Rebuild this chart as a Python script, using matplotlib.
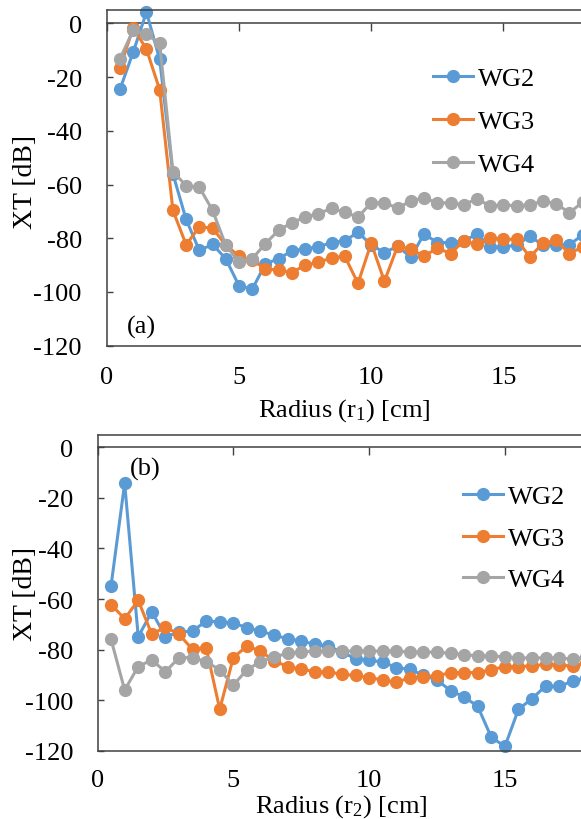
import matplotlib
matplotlib.use("Agg")
import matplotlib.pyplot as plt

plt.rcParams['font.family'] = ['Liberation Serif', 'DejaVu Serif']
plt.rcParams['mathtext.fontset'] = 'custom'
plt.rcParams['mathtext.rm'] = 'Liberation Serif'
plt.rcParams['axes.unicode_minus'] = False

radius = [0.5, 1, 1.5, 2, 2.5, 3, 3.5, 4, 4.5, 5, 5.5, 6, 6.5, 7, 7.5, 8, 8.5, 9,
          9.5, 10, 10.5, 11, 11.5, 12, 12.5, 13, 13.5, 14, 14.5, 15, 15.5, 16, 16.5,
          17, 17.5, 18]

# panel (a): radius r1
wg2_a = [-24.5, -10.6, 4.2, -13.4, -56, -73, -84.5, -82.3, -87.6, -97.7, -99, -89.5,
         -87.6, -84.7, -83.9, -83.2, -81.6, -81, -77.7, -82.5, -85.3, -83, -87, -78.4,
         -81.6, -81.6, -81, -78.4, -83.2, -83.2, -82.6, -79.2, -82.6, -82.6, -82.4, -78.7]
wg3_a = [-16.5, -1.6, -9.6, -24.7, -69.6, -82.4, -75.8, -76.2, -82.6, -86.6, -88.2, -91.3,
         -91.9, -92.8, -90, -89, -87.3, -86.7, -96.8, -81.8, -96, -82.9, -84, -86.7,
         -83.6, -85.7, -81, -82.3, -79.9, -80.4, -80.4, -87, -81.8, -80.8, -85.7, -83.2]
wg4_a = [-13.1, -2.5, -4.1, -7.4, -55.2, -60.4, -61, -69.6, -82.6, -88.8, -87.6, -82,
         -77, -74.2, -72.1, -70.9, -68.8, -70.3, -72.1, -66.8, -66.8, -68.8, -66, -65,
         -66.8, -66.8, -67.5, -65.3, -68, -67.5, -68, -67.5, -66.2, -67.2, -70.5, -66.5]

# panel (b): radius r2
wg2_b = [-54.7, -14.2, -74.9, -65, -74.9, -73.1, -72.7, -68.7, -69.1, -69.4, -71.4, -72.7,
         -74.3, -75.7, -76.6, -77.9, -78.6, -81, -83.6, -84.2, -84.9, -87.1, -87.8, -90.2,
         -92, -96.3, -98.7, -102.5, -114.7, -118.3, -103.6, -99.4, -94.4, -94.6, -92.4, -91.1]
wg3_b = [-62.2, -67.8, -60.5, -74, -71, -74, -79.9, -79.2, -103.6, -83.2, -78.6, -80.6,
         -84.5, -86.7, -87.8, -88.7, -88.8, -89.8, -90.2, -91.1, -92, -93, -91.1, -90.7,
         -90.4, -89.1, -89.1, -89.1, -88, -86.7, -86.7, -86.5, -85.8, -86.2, -86.5, -85.2]
wg4_b = [-76, -96, -86.7, -84.1, -88.8, -83.2, -83.2, -84.8, -88, -94.1, -88, -84.8,
         -82.9, -81.5, -81, -80.6, -80.6, -80.6, -80.6, -80.6, -80.6, -80.6, -81, -81,
         -81, -81.5, -82, -82.5, -82.5, -82.9, -83.3, -83.3, -83.3, -83.3, -83.8, -83]

labels = ['WG2', 'WG3', 'WG4']
colors = ['#5B9BD5', '#ED7D31', '#A5A5A5']
frame = '#404040'
W, H = 581, 820

fig = plt.figure(figsize=(W / 100, H / 100), dpi=100)


def panel(rect, series, ypad, xpad, legend_xy, lspace, tag, tag_xy, xlabel, xlabel_xy, ylabel_xy):
    ax = fig.add_axes(rect)
    for vals, lab, c in zip(series, labels, colors):
        ax.plot(radius, vals, '-o', color=c, lw=2.2, ms=8.5, label=lab, clip_on=False)
    ax.set_xlim(0, 18)
    ax.set_ylim(-120, 5)
    ax.set_xticks([0, 5, 10, 15])
    ax.set_yticks(range(-120, 1, 20))
    for s in ax.spines.values():
        s.set_color(frame)
        s.set_linewidth(1.1)
    ax.tick_params(axis='y', direction='in', length=4, width=1, color=frame,
                   labelsize=19, pad=ypad)
    ax.tick_params(axis='x', length=0, labelsize=19, pad=xpad)

    # horizontal axis line at y = 0 with its tick marks
    sec = ax.secondary_xaxis(0, transform=ax.transData)
    sec.set_xticks([0, 5, 10, 15])
    sec.tick_params(axis='x', direction='out', length=6, width=1, color=frame,
                    labelbottom=False)
    sec.spines['bottom'].set_color(frame)
    sec.spines['bottom'].set_linewidth(1.1)

    ax.legend(loc='upper left', bbox_to_anchor=(legend_xy[0] / W, 1 - legend_xy[1] / H),
              bbox_transform=fig.transFigure, frameon=False, fontsize=19,
              borderpad=0, borderaxespad=0, handlelength=1.5, handletextpad=0.2,
              labelspacing=lspace, numpoints=1)
    fig.text(tag_xy[0] / W, 1 - tag_xy[1] / H, tag, fontsize=19, ha='center', va='center')
    fig.text(xlabel_xy[0] / W, 1 - xlabel_xy[1] / H, xlabel, fontsize=19,
             ha='center', va='baseline')
    fig.text(ylabel_xy[0] / W, 1 - ylabel_xy[1] / H, 'XT [dB]', fontsize=20,
             ha='center', va='center', rotation=90)
    return ax


panel([106.8 / W, 1 - 346.7 / H, 475.9 / W, 335.7 / H], [wg2_a, wg3_a, wg4_a],
      18, 14.5, (433, 68), 0.74, '(a)', (141, 327), r'Radius ($\mathregular{r_1}$) [cm]',
      (344, 416.5), (25, 182))
panel([97.5 / W, 1 - 751.7 / H, 488.9 / W, 316.0 / H], [wg2_b, wg3_b, wg4_b],
      17.6, 13, (463, 486), 0.68, '(b)', (145, 469), r'Radius ($\mathregular{r_2}$) [cm]',
      (341, 813), (25, 594))

fig.savefig('out.png', dpi=100)
